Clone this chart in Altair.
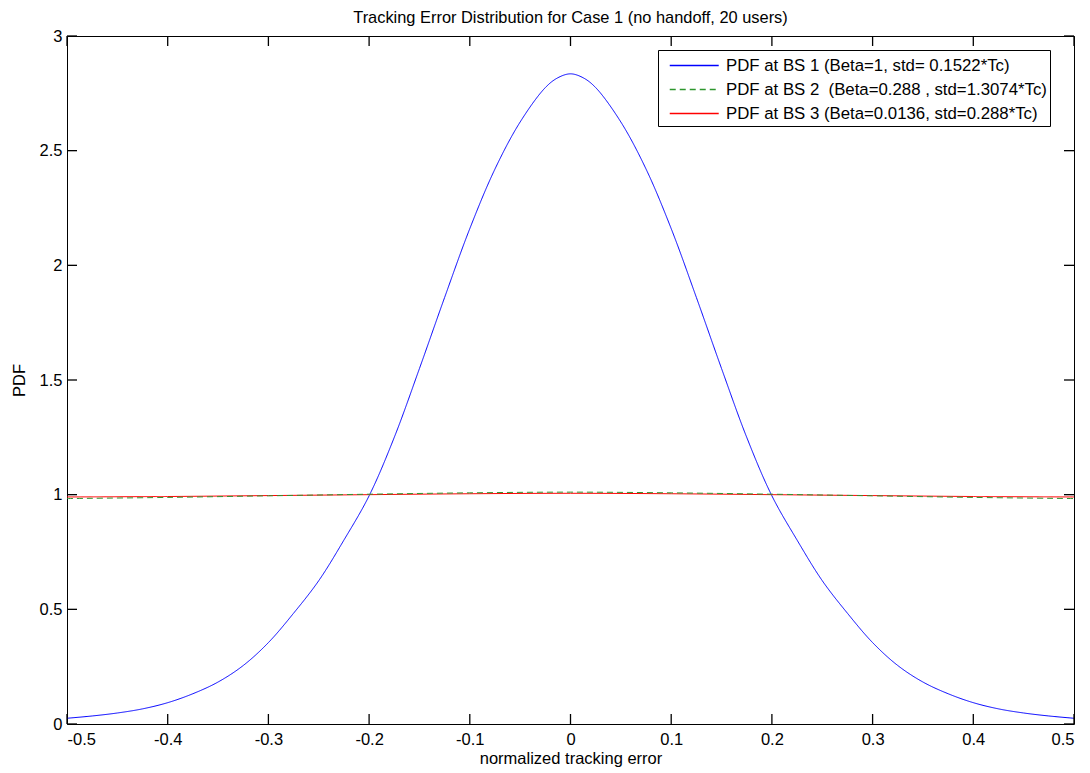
import altair as alt
import pandas as pd

FONT = "Liberation Sans"

# ---- data ----
x_bs1 = [-0.5, -0.475, -0.45, -0.425, -0.4, -0.375, -0.35, -0.325, -0.3, -0.275,
         -0.25, -0.225, -0.2, -0.175, -0.15, -0.125, -0.1, -0.075, -0.05, -0.025,
         -0.0125, 0.0, 0.0125,
         0.025, 0.05, 0.075, 0.1, 0.125, 0.15, 0.175, 0.2, 0.225, 0.25,
         0.275, 0.3, 0.325, 0.35, 0.375, 0.4, 0.425, 0.45, 0.475, 0.5]
y_bs1 = [0.025, 0.035, 0.048, 0.066, 0.093, 0.132, 0.183, 0.255, 0.355, 0.483,
         0.625, 0.802, 0.995, 1.25, 1.55, 1.86, 2.16, 2.42, 2.625, 2.775,
         2.818, 2.835, 2.818,
         2.775, 2.625, 2.42, 2.16, 1.86, 1.55, 1.25, 0.995, 0.802, 0.625,
         0.483, 0.355, 0.255, 0.183, 0.132, 0.093, 0.066, 0.048, 0.035, 0.025]

x_flat = [-0.5, -0.4, -0.3, -0.2, -0.1, 0.0, 0.1, 0.2, 0.3, 0.4, 0.5]
y_bs2 = [0.983, 0.988, 0.995, 1.002, 1.008, 1.011, 1.008, 1.002, 0.995, 0.988, 0.983]
y_bs3 = [0.990, 0.992, 0.996, 1.000, 1.004, 1.006, 1.004, 1.000, 0.996, 0.992, 0.990]

series_names = [
    "PDF at BS 1 (Beta=1, std= 0.1522*Tc)",
    "PDF at BS 2 \u00a0(Beta=0.288 , std=1.3074*Tc)",
    "PDF at BS 3 (Beta=0.0136, std=0.288*Tc)",
]
series_colors = ["#0000ff", "#2e962e", "#ff0000"]
series_dashes = [[1, 0], [6, 4], [1, 0]]

x_ticks = [-0.5, -0.4, -0.3, -0.2, -0.1, 0, 0.1, 0.2, 0.3, 0.4, 0.5]
y_ticks = [0, 0.5, 1, 1.5, 2, 2.5, 3]

title_text = "Tracking Error Distribution for Case 1 (no handoff, 20 users)"
x_title = "normalized tracking error"
y_title = "PDF"

# ---- tables ----
df1 = pd.DataFrame({"x": x_bs1, "y": y_bs1, "series": series_names[0]})
df2 = pd.DataFrame({"x": x_flat, "y": y_bs2, "series": series_names[1]})
df3 = pd.DataFrame({"x": x_flat, "y": y_bs3, "series": series_names[2]})
df_xt = pd.DataFrame({"x": x_ticks})
df_yt = pd.DataFrame({"y": y_ticks})

W, H = 1007, 688
TICK = 10

x_scale = alt.Scale(domain=[-0.5, 0.5], nice=False, zero=False)
y_scale = alt.Scale(domain=[0, 3], nice=False, zero=False)

legend = alt.Legend(
    orient="none", legendX=591, legendY=14, title=None,
    symbolType="M-0.32,0H3.85", symbolSize=552, symbolStrokeWidth=1.5,
    symbolStrokeColor={"expr": "scale('color', datum.value)"},
    symbolDash={"expr": "indexof(datum.value, 'BS 2') >= 0 ? [6, 4] : [1, 0]"},
    labelFontSize=16.8, labelFont=FONT, labelColor="black", labelOffset=40,
    labelLimit=600, padding=3, strokeColor="black", fillColor="white",
    cornerRadius=0, rowPadding=2,
)
color_enc = alt.Color("series:N", scale=alt.Scale(domain=series_names, range=series_colors), legend=legend)
dash_enc = alt.StrokeDash("series:N", scale=alt.Scale(domain=series_names, range=series_dashes), legend=None)

label_expr = "'' + datum.value"

x_axis = alt.Axis(orient="bottom", values=x_ticks, labelExpr=label_expr, ticks=False,
                  domain=False, grid=False, title=x_title, labelPadding=7, titlePadding=3,
                  labelFontSize=16.5, titleFontSize=16.5)
y_axis = alt.Axis(orient="left", values=y_ticks, labelExpr=label_expr, ticks=False,
                  domain=False, grid=False, title=y_title, labelPadding=5, titlePadding=12,
                  labelFontSize=16.5, titleFontSize=16.5)


def line_layer(df):
    return alt.Chart(df).mark_line(strokeWidth=1, interpolate="catmull-rom").encode(
        x=alt.X("x:Q", scale=x_scale, axis=x_axis),
        y=alt.Y("y:Q", scale=y_scale, axis=y_axis),
        color=color_enc,
        strokeDash=dash_enc,
    )


# inward tick marks on all four sides of the box, placed by the axis scales
tick_rule = dict(color="black", strokeWidth=1.3)
ticks_bottom = alt.Chart(df_xt).mark_rule(**tick_rule).encode(
    x=alt.X("x:Q", scale=x_scale, axis=x_axis), y=alt.value(H), y2=alt.value(H - TICK))
ticks_top = alt.Chart(df_xt).mark_rule(**tick_rule).encode(
    x=alt.X("x:Q", scale=x_scale, axis=x_axis), y=alt.value(0), y2=alt.value(TICK))
ticks_left = alt.Chart(df_yt).mark_rule(**tick_rule).encode(
    y=alt.Y("y:Q", scale=y_scale, axis=y_axis), x=alt.value(0), x2=alt.value(TICK))
ticks_right = alt.Chart(df_yt).mark_rule(**tick_rule).encode(
    y=alt.Y("y:Q", scale=y_scale, axis=y_axis), x=alt.value(W), x2=alt.value(W - TICK))

chart = alt.layer(
    line_layer(df1),
    line_layer(df3),
    line_layer(df2),
    ticks_bottom, ticks_top, ticks_left, ticks_right,
).properties(
    width=W, height=H,
    title=alt.TitleParams(title_text, fontSize=16.4, font=FONT, fontWeight="normal",
                          color="black", anchor="middle", offset=2),
    autosize=alt.AutoSizeParams(type="none"),
    padding={"left": 67, "top": 36, "right": 16, "bottom": 49},
    background="white",
).configure_view(
    stroke="black", strokeWidth=1
).configure_axis(
    labelFont=FONT, titleFont=FONT, labelColor="black", titleColor="black",
    titleFontWeight="normal",
)

chart.save("out.html", embed_options={"renderer": "svg", "actions": False})
